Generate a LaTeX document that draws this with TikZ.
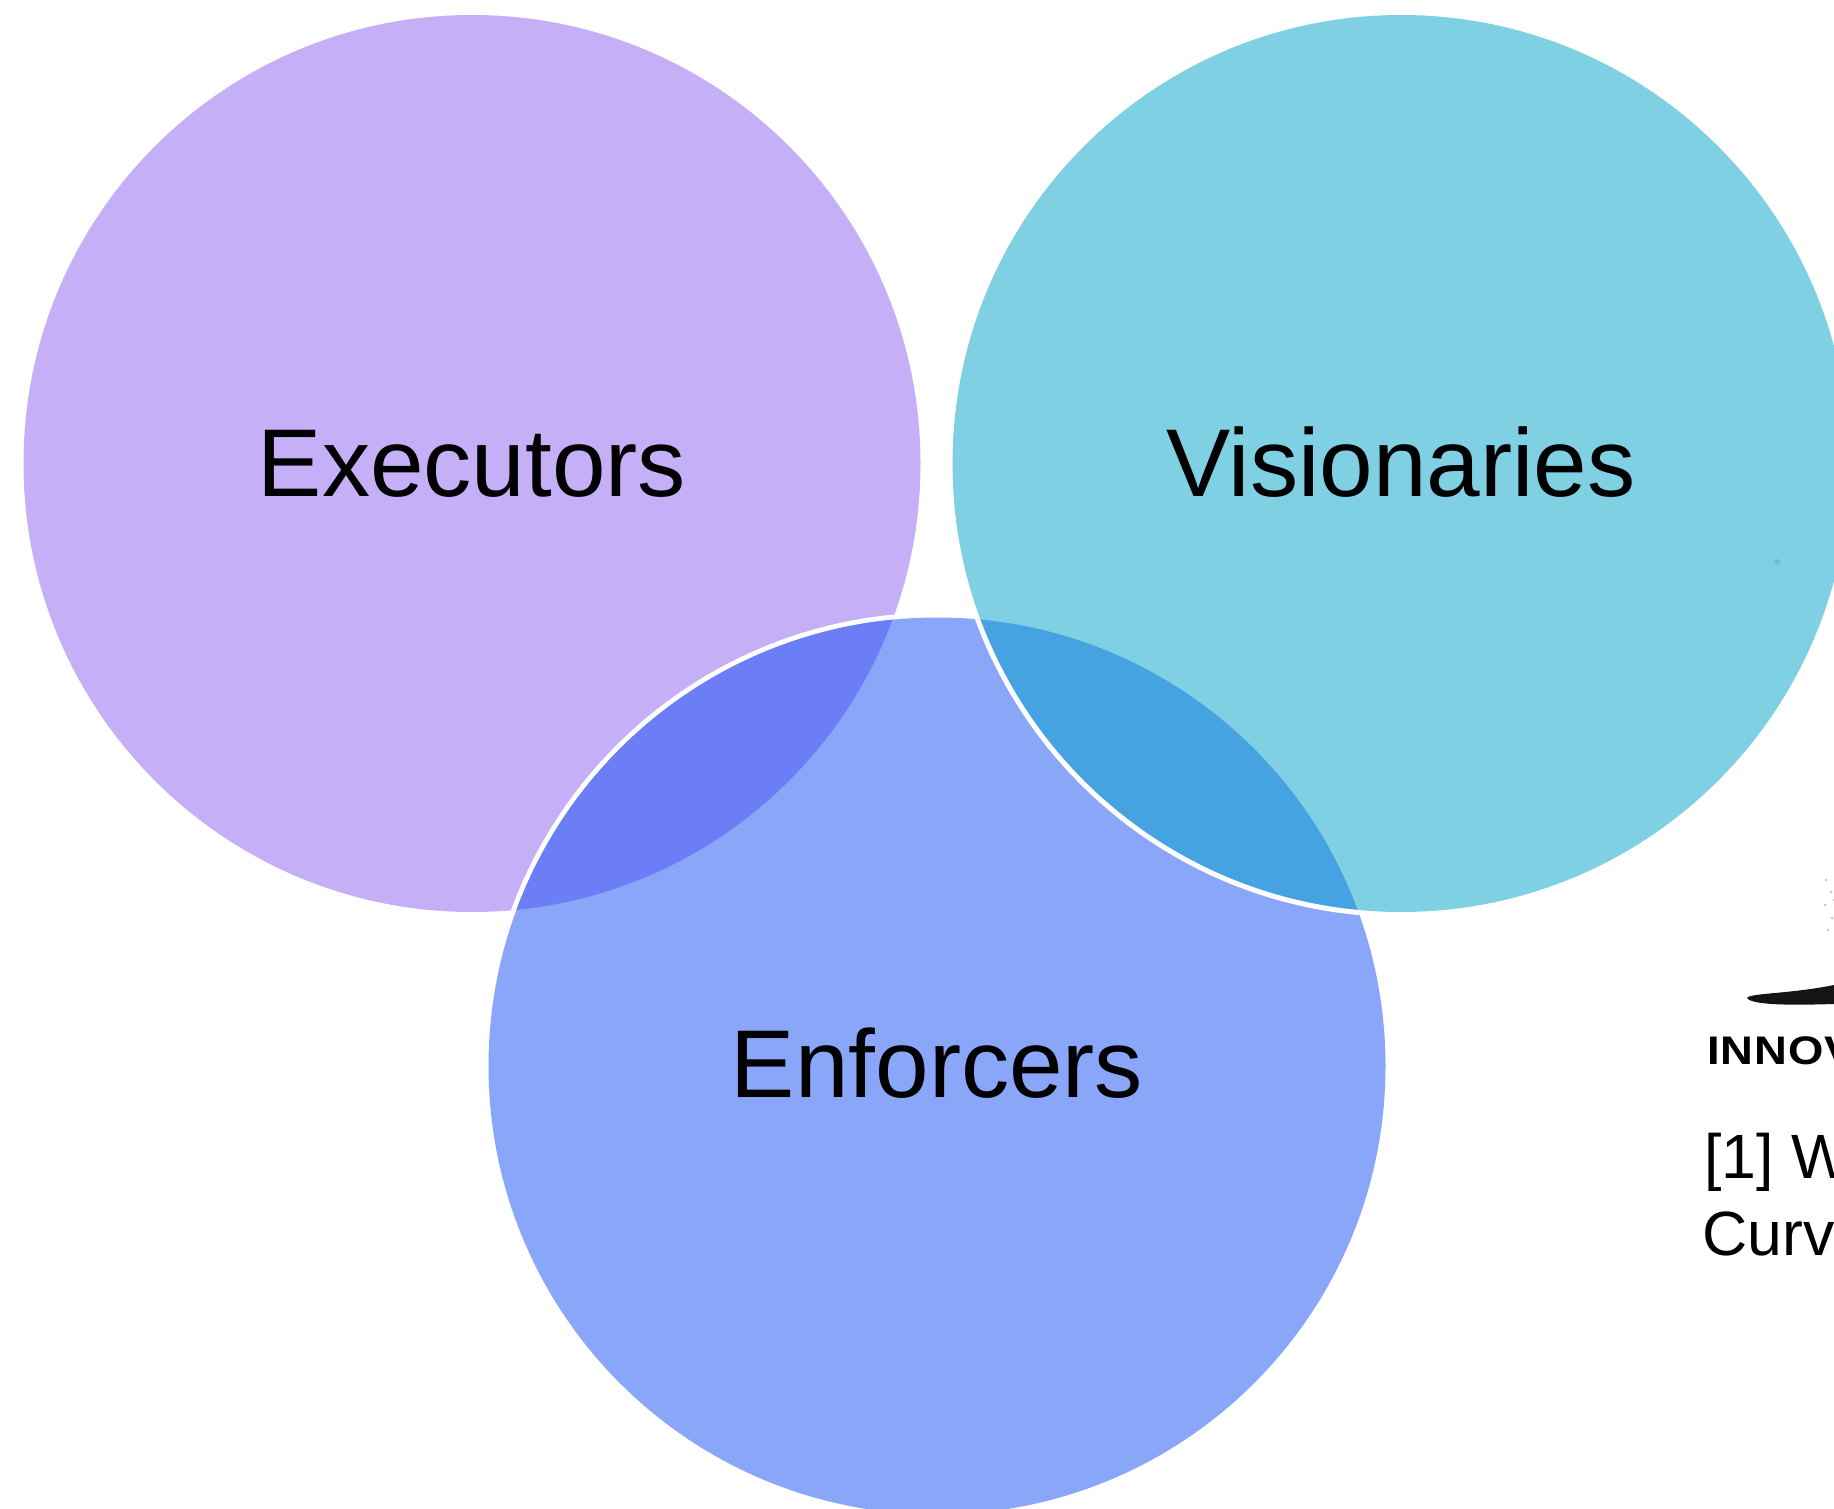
\documentclass[tikz,border=0pt]{standalone}
\usepackage{fontspec}
\setmainfont{Liberation Sans}
\definecolor{execfill}{HTML}{C5AFF7}
\definecolor{visfill}{HTML}{80D0E3}
\definecolor{enffill}{HTML}{8AA6F9}
\definecolor{execlens}{HTML}{6C7EF6}
\definecolor{vislens}{HTML}{45A3E1}
\tikzset{
  rolename/.style={font=\fontsize{54.8}{60}\selectfont, anchor=base, inner sep=0pt},
  footnote/.style={font=\fontsize{35.6}{40}\selectfont, anchor=base west, inner sep=0pt},
  rim/.style={draw=white, line width=1mm},
  speck/.style={black!22}
}
\begin{document}
\begin{tikzpicture}[x=0.2mm,y=-0.2mm]
  \useasboundingbox (0,0) rectangle (1834,1509);
  \clip (0,0) rectangle (1834,1509);
  \coordinate (execcentre) at (472,463.5);
  \coordinate (viscentre) at (1401,463.5);
  \coordinate (enfcentre) at (937,1066);
  % circles
  \fill [execfill] (execcentre) circle (448.5);
  \fill [visfill] (viscentre) circle (448.5);
  % white rim of the lower circle over the left one
  \begin{scope}
    \clip (execcentre) circle (448.5);
    \draw [rim] (enfcentre) circle (451);
  \end{scope}
  \fill [enffill] (enfcentre) circle (448.5);
  % overlaps
  \begin{scope}
    \clip (execcentre) circle (448.5);
    \fill [execlens] (enfcentre) circle (448.5);
  \end{scope}
  \begin{scope}
    \clip (enfcentre) circle (448.5);
    \fill [vislens] (viscentre) circle (448.5);
  \end{scope}
  % white rim of the right circle over the lower one
  \begin{scope}
    \clip (enfcentre) circle (448.5);
    \draw [rim] (viscentre) circle (451);
  \end{scope}
  \node [rolename] (executors) at (472,496) {Executors};
  \node [rolename] (visionaries) at (1401,496) {Visionaries};
  \node [rolename] (enforcers) at (937,1097) {Enforcers};
  % remains of the logo at the edge
  \fill [black!92] (1747,998) .. controls (1749,993) and (1790,994) .. (1834,985)
    -- (1834,1004) .. controls (1800,1005) and (1752,1006) .. (1747,998);
  \foreach \dotx/\doty in {1826/880, 1831/892, 1825/905, 1832/918, 1828/930, 1834/900}
    \fill [speck] (\dotx,\doty) circle (1.5);
  \fill [visfill!75!black, opacity=0.35] (1777,562) circle (3);
  \node [font=\addfontfeature{FakeStretch=1.14,LetterSpace=2}\bfseries\fontsize{22.7}{24}\selectfont, anchor=base west, inner sep=0pt] (logotext) at (1707,1064) {INNOV};
  \node [footnote] (refline) at (1704,1178) {[1] W};
  \node [footnote] (curveline) at (1702,1255) {Curv};
\end{tikzpicture}
\end{document}
